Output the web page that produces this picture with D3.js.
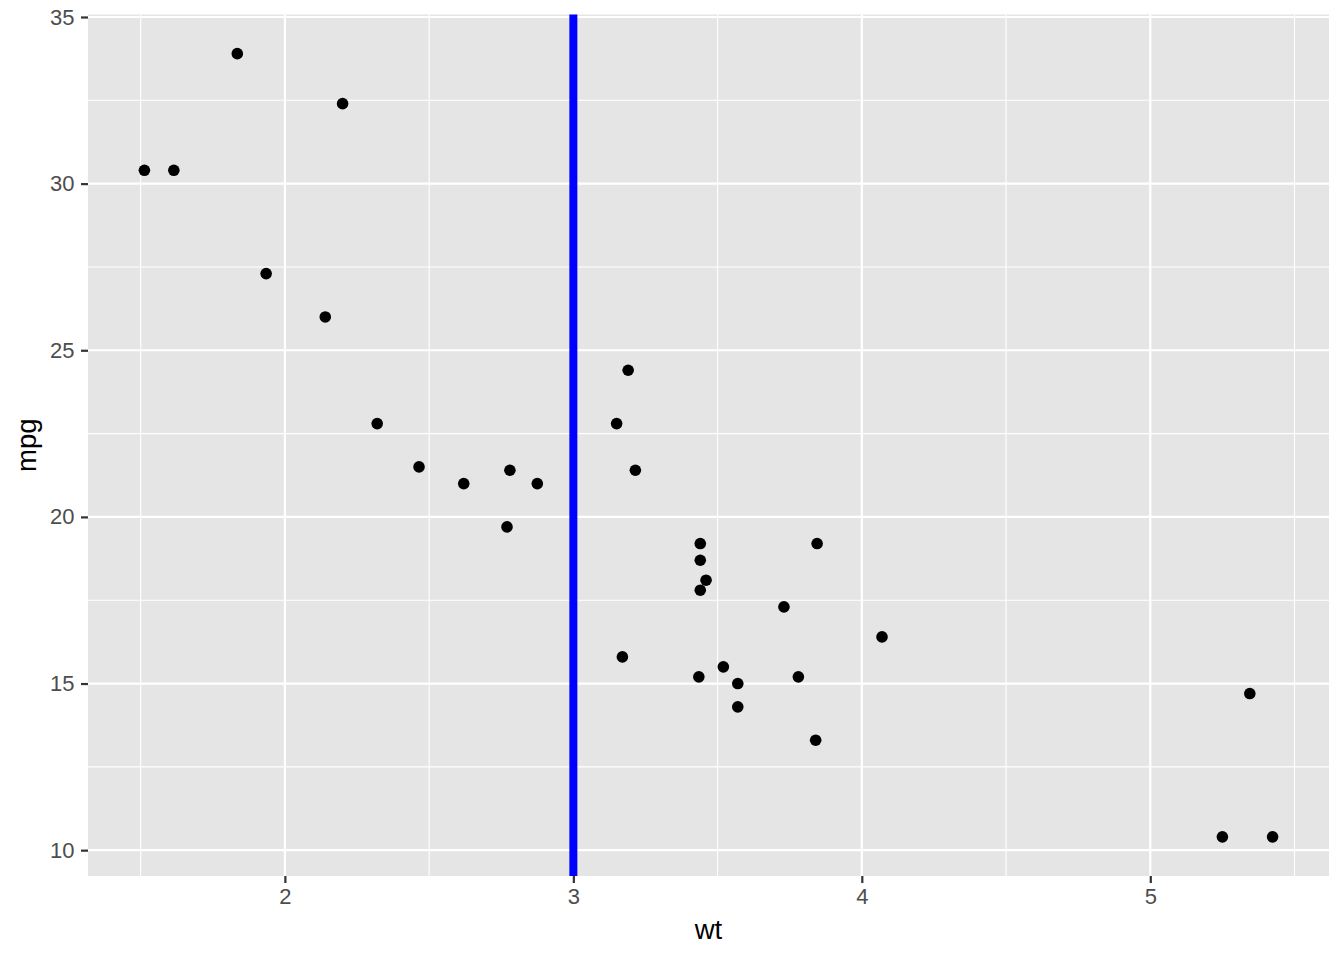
<!DOCTYPE html>
<html>
<head>
<meta charset="utf-8">
<script src="https://cdn.jsdelivr.net/npm/d3@7"></script>
<style>
  body { margin: 0; background: #fff; }
  svg { display: block; font-family: "Liberation Sans", Arial, sans-serif; }
</style>
</head>
<body>
<div id="chart"></div>
<script>
// mtcars: weight (1000 lbs) and miles per gallon
var wt = [2.620, 2.875, 2.320, 3.215, 3.440, 3.460, 3.570, 3.190, 3.150, 3.440, 3.440,
	4.070, 3.730, 3.780, 5.250, 5.424, 5.345, 2.200, 1.615, 1.835, 2.465, 3.520,
	3.435, 3.840, 3.845, 1.935, 2.140, 1.513, 3.170, 2.770, 3.570, 2.780];
var mpg = [21.0, 21.0, 22.8, 21.4, 18.7, 18.1, 14.3, 24.4, 22.8, 19.2, 17.8,
	16.4, 17.3, 15.2, 10.4, 10.4, 14.7, 32.4, 30.4, 33.9, 21.5, 15.5,
	15.2, 13.3, 19.2, 27.3, 26.0, 30.4, 15.8, 19.7, 15.0, 21.4];
var xTicks = [2, 3, 4, 5];
var xMinor = [1.5, 2.5, 3.5, 4.5, 5.5];
var yTicks = [10, 15, 20, 25, 30, 35];
var yMinor = [12.5, 17.5, 22.5, 27.5, 32.5];
var vline = [3];

var W = 1344, H = 960;
var panel = {left: 88, right: 1329, top: 14.5, bottom: 876};

var svg = d3.select('#chart')
	.append('svg')
	.attr('width', W)
	.attr('height', H);

// ggplot-style 5% expansion
var xr = d3.extent(wt), yr = d3.extent(mpg);
var xpad = (xr[1] - xr[0]) * 0.05, ypad = (yr[1] - yr[0]) * 0.05;

var x = d3.scaleLinear()
	.domain([xr[0] - xpad, xr[1] + xpad])
	.range([panel.left, panel.right]);

var y = d3.scaleLinear()
	.domain([yr[0] - ypad, yr[1] + ypad])
	.range([panel.bottom, panel.top]);

svg.append('rect')
	.attr('x', panel.left)
	.attr('y', panel.top)
	.attr('width', panel.right - panel.left)
	.attr('height', panel.bottom - panel.top)
	.attr('fill', '#e5e5e5');

var grid = svg.append('g');

// minor grid
grid.selectAll('.xminor').data(xMinor).enter().append('line')
	.attr('x1', function(d) { return x(d); })
	.attr('x2', function(d) { return x(d); })
	.attr('y1', panel.top).attr('y2', panel.bottom)
	.attr('stroke', '#fff').attr('stroke-width', 1.1);

grid.selectAll('.yminor').data(yMinor).enter().append('line')
	.attr('y1', function(d) { return y(d); })
	.attr('y2', function(d) { return y(d); })
	.attr('x1', panel.left).attr('x2', panel.right)
	.attr('stroke', '#fff').attr('stroke-width', 1.1);

// major grid
grid.selectAll('.xmajor').data(xTicks).enter().append('line')
	.attr('x1', function(d) { return x(d); })
	.attr('x2', function(d) { return x(d); })
	.attr('y1', panel.top).attr('y2', panel.bottom)
	.attr('stroke', '#fff').attr('stroke-width', 2.2);

grid.selectAll('.ymajor').data(yTicks).enter().append('line')
	.attr('y1', function(d) { return y(d); })
	.attr('y2', function(d) { return y(d); })
	.attr('x1', panel.left).attr('x2', panel.right)
	.attr('stroke', '#fff').attr('stroke-width', 2.2);

// points
var pts = wt.map(function(d, i) { return {wt: d, mpg: mpg[i]}; });

svg.append('g').selectAll('circle')
	.data(pts)
	.enter()
	.append('circle')
	.attr('cx', function(d) { return x(d.wt); })
	.attr('cy', function(d) { return y(d.mpg); })
	.attr('r', 5.8)
	.attr('fill', '#000');

// vertical reference line
svg.selectAll('.vline').data(vline).enter().append('line')
	.attr('x1', function(d) { return x(d); })
	.attr('x2', function(d) { return x(d); })
	.attr('y1', panel.top).attr('y2', panel.bottom)
	.attr('stroke', '#0000ff').attr('stroke-width', 8);

// axes
var xAxis = svg.append('g')
	.attr('transform', 'translate(0,' + panel.bottom + ')')
	.call(d3.axisBottom(x).tickValues(xTicks).tickSize(7).tickPadding(5).tickFormat(d3.format('d')));

var yAxis = svg.append('g')
	.attr('transform', 'translate(' + panel.left + ',0)')
	.call(d3.axisLeft(y).tickValues(yTicks).tickSize(7).tickPadding(6.5).tickFormat(d3.format('d')));

[xAxis, yAxis].forEach(function(a) {
	a.attr('font-size', null).attr('font-family', null);
	a.select('.domain').remove();
	a.selectAll('.tick line').attr('stroke', '#333').attr('stroke-width', 2.2);
	a.selectAll('.tick text')
		.attr('fill', '#4d4d4d')
		.style('font-size', '22px')
		.style('font-family', '"Liberation Sans", Arial, sans-serif');
});

svg.append('text')
	.attr('x', (panel.left + panel.right) / 2)
	.attr('y', 939)
	.attr('text-anchor', 'middle')
	.style('font-size', '27.5px')
	.attr('fill', '#000')
	.text('wt');

svg.append('text')
	.attr('transform', 'translate(36,' + ((panel.top + panel.bottom) / 2) + ') rotate(-90)')
	.attr('text-anchor', 'middle')
	.style('font-size', '27.5px')
	.attr('fill', '#000')
	.text('mpg');
</script>
</body>
</html>
